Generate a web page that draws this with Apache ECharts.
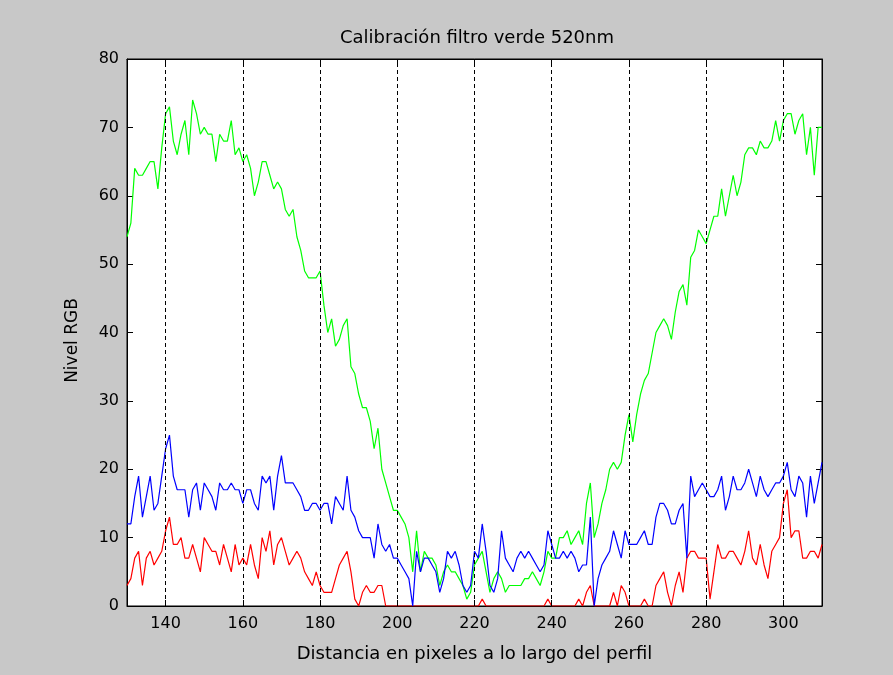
<!DOCTYPE html>
<html>
<head>
<meta charset="utf-8">
<script src="https://cdn.jsdelivr.net/npm/echarts@6/dist/echarts.min.js"></script>
<style>
  html, body { margin: 0; padding: 0; background: #c8c8c8; }
  #chart { width: 893px; height: 675px; }
</style>
</head>
<body>
<div id="chart"></div>
<script>
// Profile along the line, one sample per pixel from 130 to 310
const pixelStart = 130;
const pixelEnd = 310;

const greenLevel = [
  54, 56, 64, 63, 63, 64, 65, 65, 61, 67,
  72, 73, 68, 66, 69, 71, 66, 74, 72, 69,
  70, 69, 69, 65, 69, 68, 68, 71, 66, 67,
  65, 66, 64, 60, 62, 65, 65, 63, 61, 62,
  61, 58, 57, 58, 54, 52, 49, 48, 48, 48,
  49, 44, 40, 42, 38, 39, 41, 42, 35, 34,
  31, 29, 29, 27, 23, 26, 20, 18, 16, 14,
  14, 13, 12, 10, 5, 11, 5, 8, 7, 7,
  6, 3, 5, 6, 5, 5, 4, 3, 1, 2,
  6, 7, 8, 5, 2, 4, 5, 4, 2, 3,
  3, 3, 3, 4, 4, 5, 4, 3, 5, 8,
  7, 7, 10, 10, 11, 9, 10, 11, 9, 15,
  18, 10, 12, 15, 17, 20, 21, 20, 21, 25,
  28, 24, 28, 31, 33, 34, 37, 40, 41, 42,
  41, 39, 43, 46, 47, 44, 51, 52, 55, 54,
  53, 55, 57, 57, 61, 57, 60, 63, 60, 62,
  66, 67, 67, 66, 68, 67, 67, 68, 71, 68,
  71, 72, 72, 69, 71, 72, 66, 70, 63, 70,
  70
];

const blueLevel = [
  12, 12, 16, 19, 13, 16, 19, 14, 15, 19,
  23, 25, 19, 17, 17, 17, 13, 17, 18, 14,
  18, 17, 16, 14, 18, 17, 17, 18, 17, 17,
  15, 17, 17, 15, 14, 19, 18, 19, 14, 19,
  22, 18, 18, 18, 17, 16, 14, 14, 15, 15,
  14, 15, 15, 12, 16, 15, 14, 19, 14, 13,
  11, 10, 10, 10, 7, 12, 9, 8, 9, 7,
  7, 6, 5, 4, 0, 8, 5, 7, 7, 6,
  5, 2, 4, 8, 7, 8, 6, 3, 2, 3,
  8, 7, 12, 8, 3, 2, 4, 11, 7, 6,
  5, 7, 8, 7, 8, 7, 6, 5, 6, 11,
  9, 7, 7, 8, 7, 8, 7, 5, 6, 6,
  13, 0, 4, 6, 7, 8, 11, 9, 7, 11,
  9, 9, 9, 10, 11, 9, 9, 13, 15, 15,
  14, 12, 12, 14, 15, 7, 19, 16, 17, 18,
  17, 16, 16, 17, 19, 14, 16, 19, 17, 17,
  18, 20, 18, 16, 19, 17, 16, 17, 18, 18,
  19, 21, 17, 16, 19, 18, 13, 19, 15, 18,
  21
];

const redLevel = [
  3, 4, 7, 8, 3, 7, 8, 6, 7, 8,
  11, 13, 9, 9, 10, 7, 7, 9, 7, 5,
  10, 9, 8, 8, 6, 9, 7, 5, 9, 6,
  7, 6, 9, 6, 4, 10, 8, 11, 6, 9,
  10, 8, 6, 7, 8, 7, 5, 4, 3, 5,
  3, 2, 2, 2, 4, 6, 7, 8, 5, 1,
  0, 2, 3, 2, 2, 3, 3, 0, 0, 0,
  0, 0, 0, 0, 0, 0, 0, 0, 0, 0,
  0, 0, 0, 0, 0, 0, 0, 0, 0, 0,
  0, 0, 1, 0, 0, 0, 0, 0, 0, 0,
  0, 0, 0, 0, 0, 0, 0, 0, 0, 1,
  0, 0, 0, 0, 0, 0, 0, 1, 0, 2,
  3, 0, 0, 0, 0, 0, 2, 0, 3, 2,
  0, 0, 0, 0, 1, 0, 0, 3, 4, 5,
  2, 0, 3, 5, 2, 7, 8, 8, 7, 7,
  7, 1, 5, 9, 7, 7, 8, 8, 7, 6,
  8, 11, 7, 6, 9, 6, 4, 8, 9, 10,
  15, 17, 10, 11, 11, 7, 7, 8, 8, 7,
  9
];

const xTicks = [140, 160, 180, 200, 220, 240, 260, 280, 300];

const toPairs = (vals) => vals.map((v, i) => [pixelStart + i, v]);

const font = 'DejaVu Sans, Liberation Sans, sans-serif';
const black = '#000';

const chart = echarts.init(document.getElementById('chart'));

const xCommon = {
  type: 'value',
  min: pixelStart,
  max: pixelEnd,
  interval: 10,
  axisLine: { show: true, onZero: false, lineStyle: { color: black, width: 1 } },
  axisTick: { show: true, inside: true, length: 6, customValues: xTicks, lineStyle: { color: black } },
  splitLine: { show: false }
};
const yCommon = {
  type: 'value',
  min: 0,
  max: 80,
  interval: 10,
  axisLine: { show: true, onZero: false, lineStyle: { color: black, width: 1 } },
  axisTick: { show: true, inside: true, length: 6, lineStyle: { color: black } },
  splitLine: { show: false }
};

chart.setOption({
  backgroundColor: '#c8c8c8',
  animation: false,
  title: {
    text: 'Calibración filtro verde 520nm',
    left: 472,
    top: 24,
    textAlign: 'center',
    textStyle: { fontFamily: font, fontSize: 18, fontWeight: 'normal', color: black }
  },
  grid: {
    left: 127, right: 71, top: 59, bottom: 69,
    show: true, backgroundColor: '#ffffff', borderColor: black, borderWidth: 1
  },
  xAxis: [
    Object.assign({}, xCommon, {
      position: 'bottom',
      name: 'Distancia en pixeles a lo largo del perfil',
      nameLocation: 'middle',
      nameGap: 39,
      nameTextStyle: { fontFamily: font, fontSize: 18, color: black },
      axisLabel: { show: true, customValues: xTicks, margin: 10, fontFamily: font, fontSize: 16, color: black }
    }),
    Object.assign({}, xCommon, {
      position: 'top',
      axisLabel: { show: false }
    })
  ],
  yAxis: [
    Object.assign({}, yCommon, {
      position: 'left',
      name: 'Nivel RGB',
      nameLocation: 'middle',
      nameGap: 46,
      nameTextStyle: { fontFamily: font, fontSize: 17, color: black, padding: [0, 16, 0, 0] },
      axisLabel: { show: true, margin: 8, fontFamily: font, fontSize: 16, color: black }
    }),
    Object.assign({}, yCommon, {
      position: 'right',
      axisLabel: { show: false }
    })
  ],
  series: [
    {
      // vertical dashed grid at the labelled ticks
      type: 'line',
      data: [],
      z: 1,
      silent: true,
      markLine: {
        silent: true,
        symbol: ['none', 'none'],
        label: { show: false },
        lineStyle: { color: black, width: 1, type: [4, 3] },
        data: xTicks.map(v => ({ xAxis: v }))
      }
    },
    {
      name: 'R', type: 'line', data: toPairs(redLevel), showSymbol: false, z: 3,
      lineStyle: { color: '#ff0000', width: 1.2 }, itemStyle: { color: '#ff0000' }
    },
    {
      name: 'G', type: 'line', data: toPairs(greenLevel), showSymbol: false, z: 3,
      lineStyle: { color: '#00ff00', width: 1.2 }, itemStyle: { color: '#00ff00' }
    },
    {
      name: 'B', type: 'line', data: toPairs(blueLevel), showSymbol: false, z: 3,
      lineStyle: { color: '#0000ff', width: 1.2 }, itemStyle: { color: '#0000ff' }
    }
  ]
});
</script>
</body>
</html>
